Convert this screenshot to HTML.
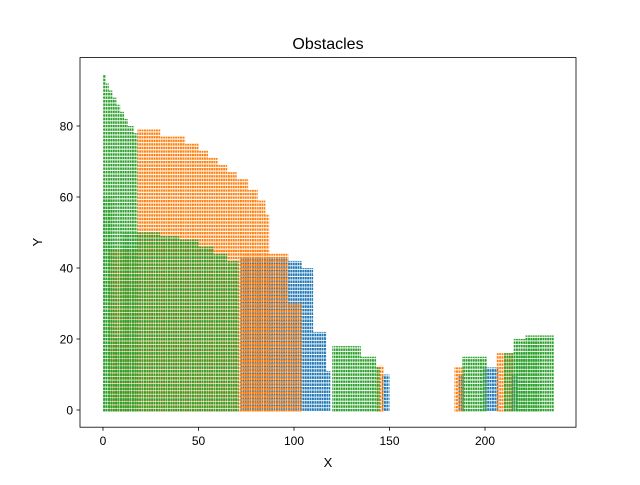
<!DOCTYPE html>
<html><head><meta charset="utf-8"><style>
body{margin:0;background:#fff}
svg{font-family:"Liberation Sans","DejaVu Sans",sans-serif}
</style></head><body>
<svg id="chart" width="640" height="480" viewBox="0 0 640 480">
<defs>
<pattern id="pb" width="2.4" height="3.55" patternUnits="userSpaceOnUse"><rect width="1.9" height="2.6" fill="#1f77b4"/></pattern>
<pattern id="po" width="2.4" height="3.55" patternUnits="userSpaceOnUse" y="1.2"><rect width="1.9" height="2.4" fill="#ff7f0e"/></pattern>
<pattern id="pg" width="2.4" height="3.55" patternUnits="userSpaceOnUse" y="0.6"><rect width="1.9" height="2.5" fill="#2ca02c"/></pattern>
</defs>
<rect x="0" y="0" width="640" height="480" fill="#fff"/>
<g id="marks"></g>
<rect x="80" y="57.6" width="496" height="369.6" fill="none" stroke="#000" stroke-width="0.8"/>
<g id="axes"></g>
<text x="328" y="49" font-size="16" text-anchor="middle">Obstacles</text>
<text x="328" y="467" font-size="13" text-anchor="middle">X</text>
<text x="42" y="242" font-size="13" text-anchor="middle" transform="rotate(-90 42 242)">Y</text>
</svg>
<script>
// obstacle rectangles: [x0, x1, yBottom, yTop] in data units
const blueRects=[[72,97,0,43],[97,104,0,42],[104,110,0,40],[110,117,0,22],[117,119,0,11],[146,150,0,10],[186,189,0,10],[199,207,0,12],[214,217,0,10]];
const orangeRects=[[18,30,45,79],[30,43,45,77],[43,50,45,75],[50,55,45,73],[55,60,45,71],[60,65,45,69],[65,70,45,67],[70,76,45,65],[76,81,45,62],[81,85,45,59],[85,87,45,55],[3,87,0,45],[73,97,0,44],[97,104,0,30],[143,147,0,12.5],[184,189,0,12],[206,215,0,16]];
const greenRects=[[0,1.5,0,94.5],[1.5,3,0,92],[3,5,0,90],[5,7,0,88],[7,9,0,86],[9,11,0,84],[11,13,0,82],[13,16,0,80],[16,18,0,78],[0,5,0,60],[10,30,0,50],[30,40,0,49],[40,50,0,48],[50,58,0,46],[58,65,0,44],[65,71,0,42],[6,10,0,20],[120,135,0,18],[135,143,0,15],[143,145,0,12],[188,201,0,15],[210,222,0,16],[215,229,0,20],[221,236,0,21]];
const xTicks=[0,50,100,150,200];
const yTicks=[0,20,40,60,80];
const sx=v=>103+1.91*v, sy=v=>410-3.55*v;
const NS='http://www.w3.org/2000/svg';
const marks=document.getElementById('marks');
function draw(arr,fill,name){arr.forEach(r=>{const e=document.createElementNS(NS,'rect');
e.setAttribute('x',sx(r[0]));e.setAttribute('width',sx(r[1])-sx(r[0]));
e.setAttribute('y',sy(r[3]));e.setAttribute('height',sy(r[2])-sy(r[3])+1.5);
e.setAttribute('fill',fill);


marks.appendChild(e);});}
draw(blueRects,'url(#pb)','blue-obstacle-points');
draw(orangeRects,'url(#po)','orange-obstacle-points');
draw(greenRects,'url(#pg)','green-obstacle-points');
const axes=document.getElementById('axes');
xTicks.forEach(t=>{const l=document.createElementNS(NS,'line');l.setAttribute('x1',sx(t));l.setAttribute('x2',sx(t));l.setAttribute('y1',427.2);l.setAttribute('y2',430.7);l.setAttribute('stroke','#000');l.setAttribute('stroke-width','0.8');


axes.appendChild(l);const tx=document.createElementNS(NS,'text');tx.setAttribute('x',sx(t));tx.setAttribute('y',445);tx.setAttribute('font-size','12');tx.setAttribute('text-anchor','middle');tx.textContent=t;


axes.appendChild(tx);});
yTicks.forEach(t=>{const l=document.createElementNS(NS,'line');l.setAttribute('x1',76.5);l.setAttribute('x2',80);l.setAttribute('y1',sy(t));l.setAttribute('y2',sy(t));l.setAttribute('stroke','#000');l.setAttribute('stroke-width','0.8');


axes.appendChild(l);const tx=document.createElementNS(NS,'text');tx.setAttribute('x',73);tx.setAttribute('y',sy(t)+4.5);tx.setAttribute('font-size','12');tx.setAttribute('text-anchor','end');tx.textContent=t;


axes.appendChild(tx);});
</script>
</body></html>
